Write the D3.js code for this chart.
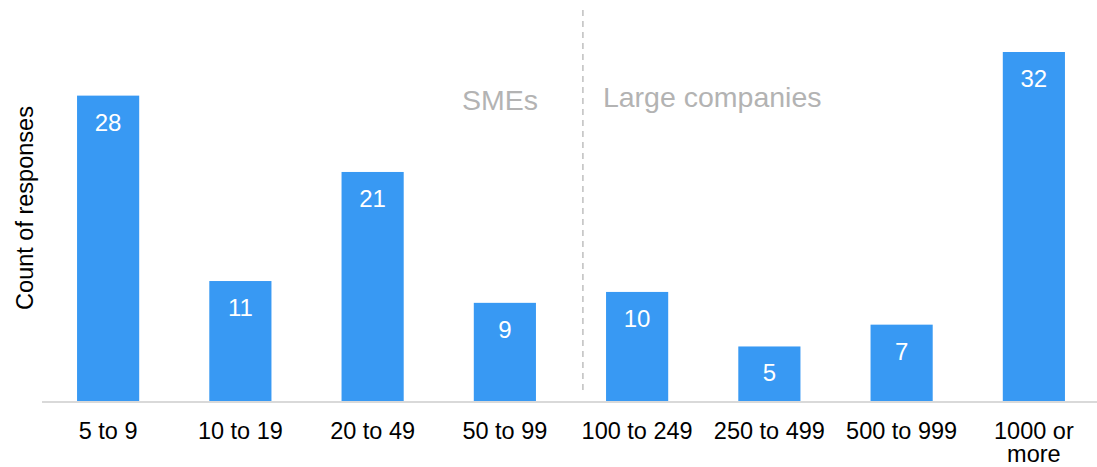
<!DOCTYPE html>
<html>
<head>
<meta charset="utf-8">
<script src="https://cdn.jsdelivr.net/npm/d3@7"></script>
<style>
  html, body { margin: 0; padding: 0; background: #fff; }
  svg { display: block; font-family: "Liberation Sans", Arial, sans-serif; }
</style>
</head>
<body>
<svg id="chart" width="1097" height="467"></svg>
<script>
// Company size bands and number of survey responses in each
const categories = ["5 to 9", "10 to 19", "20 to 49", "50 to 99", "100 to 249", "250 to 499", "500 to 999", "1000 or more"];
const responses = [28, 11, 21, 9, 10, 5, 7, 32];
const tickLabels = [["5 to 9"], ["10 to 19"], ["20 to 49"], ["50 to 99"], ["100 to 249"], ["250 to 499"], ["500 to 999"], ["1000 or", "more"]];
const groupLabels = ["SMEs", "Large companies"];
const firstLargeIndex = 4;

const svg = d3.select("#chart");
const baseY = 401, topY = 52;

const x = d3.scaleBand()
  .domain(categories)
  .range([42, 1100])
  .paddingInner(0.53)
  .paddingOuter(0.265);

const y = d3.scaleLinear()
  .domain([0, d3.max(responses)])
  .range([baseY, topY]);

const data = categories.map((c, i) => ({ cat: c, value: responses[i], label: tickLabels[i] }));

// Bars
svg.append("g").selectAll("rect")
  .data(data)
  .join("rect")
  .attr("x", d => x(d.cat))
  .attr("y", d => y(d.value))
  .attr("width", x.bandwidth())
  .attr("height", d => y(0) - y(d.value))
  .attr("fill", "#3899F3");

// Value labels inside bar tops
svg.append("g").selectAll("text")
  .data(data)
  .join("text")
  .attr("x", d => x(d.cat) + x.bandwidth() / 2)
  .attr("y", d => y(d.value) + 35)
  .attr("text-anchor", "middle")
  .attr("fill", "#fff")
  .attr("font-size", 24)
  .text(d => d.value);

// Category axis
const xAxis = svg.append("g")
  .attr("transform", `translate(0,${baseY})`)
  .call(d3.axisBottom(x).tickSize(0).tickFormat(""));
xAxis.select(".domain").remove();
svg.append("line")
  .attr("x1", 42).attr("x2", 1097)
  .attr("y1", baseY + 1).attr("y2", baseY + 1)
  .attr("stroke", "#d9d9d9").attr("stroke-width", 2);

const ticks = svg.append("g").selectAll("text")
  .data(data)
  .join("text")
  .attr("x", d => x(d.cat) + x.bandwidth() / 2)
  .attr("y", baseY + 38)
  .attr("text-anchor", "middle")
  .attr("fill", "#000")
  .attr("font-size", 23.5);
ticks.selectAll("tspan")
  .data(d => d.label)
  .join("tspan")
  .attr("x", function () { return d3.select(this.parentNode).attr("x"); })
  .attr("dy", (d, i) => i === 0 ? 0 : 22.5)
  .text(d => d);

// Y-axis title
svg.append("text")
  .attr("transform", "translate(33,208) rotate(-90)")
  .attr("text-anchor", "middle")
  .attr("fill", "#000")
  .attr("font-size", 23.5)
  .text("Count of responses");

// Divider between SMEs and large companies
const divX = x(categories[firstLargeIndex]) - x.step() * 0.175;
svg.append("line")
  .attr("x1", divX).attr("x2", divX)
  .attr("y1", 10).attr("y2", 394)
  .attr("stroke", "#bfbfbf")
  .attr("stroke-width", 1.5)
  .attr("stroke-dasharray", "6,5");

svg.append("text")
  .attr("x", divX - 45)
  .attr("y", 110)
  .attr("text-anchor", "end")
  .attr("fill", "#b3b3b3")
  .attr("font-size", 28.5)
  .text(groupLabels[0]);

svg.append("text")
  .attr("x", divX + 20)
  .attr("y", 107)
  .attr("text-anchor", "start")
  .attr("fill", "#b3b3b3")
  .attr("font-size", 28.5)
  .text(groupLabels[1]);
</script>
</body>
</html>
